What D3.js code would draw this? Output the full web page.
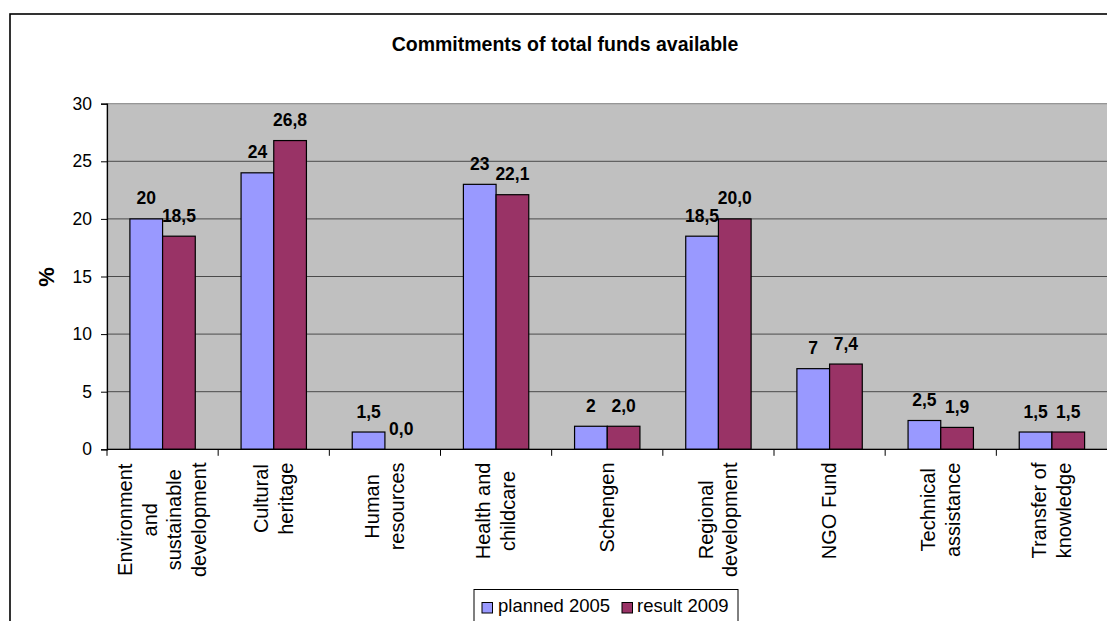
<!DOCTYPE html>
<html>
<head>
<meta charset="utf-8">
<script src="https://cdn.jsdelivr.net/npm/d3@7"></script>
<style>
  html, body { margin: 0; padding: 0; background: #fff; }
  svg { display: block; font-family: "Liberation Sans", Arial, sans-serif; }
</style>
</head>
<body>
<svg id="chart" width="1107" height="621"></svg>
<script>
// ---- Data ----
const categories = [
  "Environment and sustainable development", "Cultural heritage", "Human resources",
  "Health and childcare", "Schengen", "Regional development", "NGO Fund",
  "Technical assistance", "Transfer of knowledge"
];
const categoryLines = [
  ["Environment", "and", "sustainable", "development"],
  ["Cultural", "heritage"],
  ["Human", "resources"],
  ["Health and", "childcare"],
  ["Schengen"],
  ["Regional", "development"],
  ["NGO Fund"],
  ["Technical", "assistance"],
  ["Transfer of", "knowledge"]
];
const seriesNames = ["planned 2005", "result 2009"];
const planned2005 = [20, 24, 1.5, 23, 2, 18.5, 7, 2.5, 1.5];
const result2009 = [18.5, 26.8, 0.0, 22.1, 2.0, 20.0, 7.4, 1.9, 1.5];
const planned2005Labels = ["20", "24", "1,5", "23", "2", "18,5", "7", "2,5", "1,5"];
const result2009Labels = ["18,5", "26,8", "0,0", "22,1", "2,0", "20,0", "7,4", "1,9", "1,5"];
const yTicks = [0, 5, 10, 15, 20, 25, 30];
const titleText = "Commitments of total funds available";
const yAxisTitle = "%";
const seriesColors = ["#9999FF", "#993366"];

// ---- Layout ----
const svg = d3.select("#chart");
const plot = { left: 107, right: 1107.5, top: 103.7, bottom: 449.3 };

const x = d3.scaleBand().domain(categories).range([plot.left, plot.right]).paddingInner(0).paddingOuter(0);
const bw = x.bandwidth();
const xs = d3.scaleBand().domain(seriesNames).range([bw * 0.206, bw * 0.794]);
const y = d3.scaleLinear().domain([0, 30]).range([plot.bottom, plot.top]);

// outer chart border
svg.append("rect").attr("x", 10).attr("y", 14).attr("width", 1200).attr("height", 700)
  .attr("fill", "#fff").attr("stroke", "#000").attr("stroke-width", 1.6);

// title
svg.append("text").attr("x", 565).attr("y", 50.5).attr("text-anchor", "middle")
  .attr("font-size", 19.5).attr("font-weight", "bold").attr("fill", "#000").text(titleText);

// plot background
svg.append("rect").attr("x", plot.left).attr("y", plot.top)
  .attr("width", plot.right - plot.left).attr("height", plot.bottom - plot.top)
  .attr("fill", "#C0C0C0").attr("stroke", "#808080").attr("stroke-width", 1);

// gridlines
svg.append("g").selectAll("line").data(yTicks.filter(t => t > 0 && t < 30)).join("line")
  .attr("x1", plot.left).attr("x2", plot.right)
  .attr("y1", d => y(d)).attr("y2", d => y(d))
  .attr("stroke", "#4a4a4a").attr("stroke-width", 1);

// bars
const series = [planned2005, result2009];
const labels = [planned2005Labels, result2009Labels];
series.forEach((vals, si) => {
  const g = svg.append("g");
  g.selectAll("rect").data(vals).join("rect")
    .attr("x", (d, i) => x(categories[i]) + xs(seriesNames[si]))
    .attr("y", d => y(d))
    .attr("width", xs.bandwidth())
    .attr("height", d => y(0) - y(d))
    .attr("fill", seriesColors[si]).attr("stroke", "#000").attr("stroke-width", 1.2);
  g.selectAll("text").data(vals).join("text")
    .attr("x", (d, i) => x(categories[i]) + xs(seriesNames[si]) + xs.bandwidth() / 2)
    .attr("y", d => y(d) - 14.5)
    .attr("text-anchor", "middle").attr("font-size", 17.5).attr("font-weight", "bold")
    .text((d, i) => labels[si][i]);
});

// y axis
const yAxis = svg.append("g").attr("transform", `translate(${plot.left},0)`)
  .call(d3.axisLeft(y).tickValues(yTicks).tickSize(6).tickPadding(9).tickFormat(d3.format("d")));
yAxis.select(".domain").attr("stroke", "#000").attr("stroke-width", 1.2);
yAxis.selectAll(".tick line").attr("stroke", "#000");
yAxis.selectAll(".tick text").attr("font-size", 17.5).attr("font-family", "Liberation Sans, Arial, sans-serif").attr("fill", "#000");

// x axis line and ticks at band boundaries
svg.append("line").attr("x1", plot.left).attr("x2", plot.right)
  .attr("y1", plot.bottom).attr("y2", plot.bottom).attr("stroke", "#000").attr("stroke-width", 1.2);
const boundaries = categories.map(c => x(c)).concat([plot.right]);
svg.append("g").selectAll("line").data(boundaries).join("line")
  .attr("x1", d => d).attr("x2", d => d)
  .attr("y1", plot.bottom).attr("y2", plot.bottom + 6.5)
  .attr("stroke", "#000").attr("stroke-width", 1);

// category labels (rotated, multi-line)
const catFont = 20, lineH = 24.5, labelTop = 462.5;
categoryLines.forEach((lines, ci) => {
  const cx = x(categories[ci]) + bw / 2;
  const g = svg.append("g");
  const texts = lines.map((ln, li) => {
    const bx = cx + (li - (lines.length - 1) / 2) * lineH + 6.5;
    return g.append("text").attr("font-size", catFont).attr("fill", "#000")
      .attr("text-anchor", "middle").attr("data-bx", bx).text(ln);
  });
  const L = d3.max(texts, t => t.node().getComputedTextLength());
  const yc = labelTop + L / 2;
  texts.forEach(t => {
    const bx = +t.attr("data-bx");
    t.attr("transform", `translate(${bx},${yc}) rotate(-90)`);
  });
});

// y axis title
svg.append("text").attr("transform", "translate(53.5,277) rotate(-90)")
  .attr("text-anchor", "middle").attr("font-size", 22).attr("font-weight", "bold").text(yAxisTitle);

// legend
const legend = svg.append("g");
legend.append("rect").attr("x", 474).attr("y", 589.5).attr("width", 264).attr("height", 40)
  .attr("fill", "#fff").attr("stroke", "#000").attr("stroke-width", 1);
const legItems = [{ sx: 482, tx: 498 }, { sx: 622, tx: 637 }];
seriesNames.forEach((name, i) => {
  legend.append("rect").attr("x", legItems[i].sx).attr("y", 602.5).attr("width", 10.5).attr("height", 10.5)
    .attr("fill", seriesColors[i]).attr("stroke", "#000").attr("stroke-width", 1);
  legend.append("text").attr("x", legItems[i].tx).attr("y", 612).attr("font-size", 18.5).attr("fill", "#000").text(name);
});
</script>
</body>
</html>
